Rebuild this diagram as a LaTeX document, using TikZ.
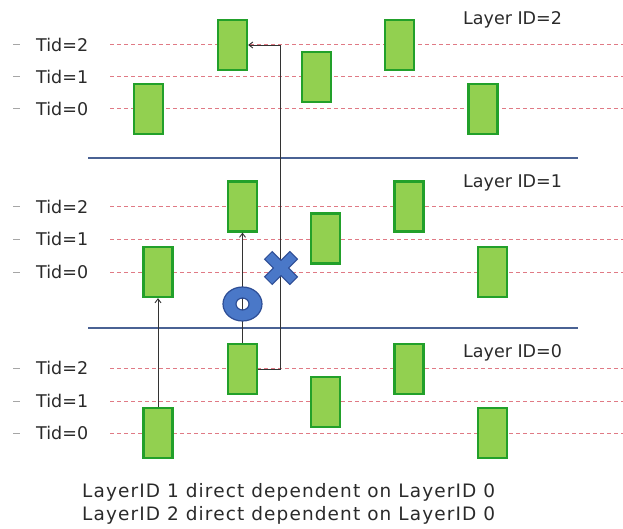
\documentclass[tikz,border=0pt]{standalone}
\usepackage{fontspec}
\setmainfont{DejaVu Sans}
\newfontfamily\notefont[LetterSpace=6]{DejaVu Sans}
\usetikzlibrary{arrows.meta,calc}
\definecolor{boxfill}{HTML}{92D050}
\definecolor{boxline}{HTML}{22A02A}
\definecolor{tidline}{HTML}{E07A85}
\definecolor{layerline}{HTML}{4A6294}
\definecolor{markblue}{HTML}{4A78C8}
\definecolor{markdark}{HTML}{2E4E96}
\definecolor{txt}{HTML}{2A2A2A}
\tikzset{
  frame/.style={draw=boxline, line width=2.2pt, fill=boxfill, minimum width=29pt, minimum height=50pt, inner sep=0pt},
  tidrule/.style={tidline, dash pattern=on 4pt off 3pt, line width=1pt},
  layerrule/.style={layerline, line width=1.2pt},
  dep/.style={draw=black!80, line width=0.9pt, -{Straight Barb[length=4pt,width=6pt]}},
  tidlab/.style={anchor=west, inner sep=0pt, text=txt, font=\fontsize{17.5}{19}\selectfont},
  layerlab/.style={anchor=west, inner sep=0pt, text=txt, font=\fontsize{17.5}{19}\selectfont},
  notelab/.style={anchor=west, inner sep=0pt, text=txt, font=\notefont\fontsize{18.5}{20}\selectfont}
}
\begin{document}
\begin{tikzpicture}[x=1pt,y=-1pt]
\useasboundingbox (0,0) rectangle (623,529);
% Tid dashed rules and labels
\foreach \yy/\t in {45/2,77/1,109/0,207/2,239/1,272/0,368/2,401/1,433/0}{
  \draw[tidrule] (110,\yy) -- (623,\yy);
  \draw[black!35, line width=1pt] (13,\yy) -- (20,\yy);
  \node[tidlab] at (36,\yy) {Tid=\t};
}
% layer separators
\draw[layerrule] (88,158) -- (578,158);
\draw[layerrule] (88,328) -- (578,328);
% layer labels
\node[layerlab] (L2) at (463,20) {Layer ID=2};
\node[layerlab] (L1) at (463,183) {Layer ID=1};
\node[layerlab] (L0) at (463,353) {Layer ID=0};
% Layer 2 pictures
\node[frame] (ta) at (148.5,109) {};
\node[frame] (tb) at (232.5,45) {};
\node[frame] (tc) at (316.5,77) {};
\node[frame] (td) at (399.5,45) {};
\node[frame] (te) at (483,109) {};
% Layer 1 pictures
\node[frame] (ma) at (158,272) {};
\node[frame] (mb) at (242.5,206.5) {};
\node[frame] (mc) at (325.5,238.5) {};
\node[frame] (md) at (409,206.5) {};
\node[frame] (me) at (492.5,272) {};
% Layer 0 pictures
\node[frame] (ba) at (158,433) {};
\node[frame] (bb) at (242.5,369) {};
\node[frame] (bc) at (325.5,402) {};
\node[frame] (bd) at (409,369) {};
\node[frame] (be) at (492.5,433) {};
% dependencies
\draw[dep] (ba.north) -- (ma.south);
\draw[dep] (bb.north) -- (mb.south);
\coordinate (turn) at (280,369);
\draw[dep] (bb.east) -- (turn) |- (tb.east);
% O mark
\coordinate (omark) at (242.5,304);
\fill[markblue, even odd rule, draw=markdark, line width=1.2pt] (omark) ellipse (19.5pt and 17pt) (omark) ellipse (6.5pt and 6pt);
% X mark
\coordinate (xmark) at (281,268);
\draw[markdark, line width=12pt] ($(xmark)+(-13,-13)$) -- ($(xmark)+(13,13)$) ($(xmark)+(-13,13)$) -- ($(xmark)+(13,-13)$);
\draw[markblue, line width=9.5pt] ($(xmark)+(-12.2,-12.2)$) -- ($(xmark)+(12.2,12.2)$) ($(xmark)+(-12.2,12.2)$) -- ($(xmark)+(12.2,-12.2)$);
% notes
\node[notelab] (n1) at (82,492) {LayerID 1 direct dependent on LayerID 0};
\node[notelab] (n2) at (82,515) {LayerID 2 direct dependent on LayerID 0};
\end{tikzpicture}
\end{document}
